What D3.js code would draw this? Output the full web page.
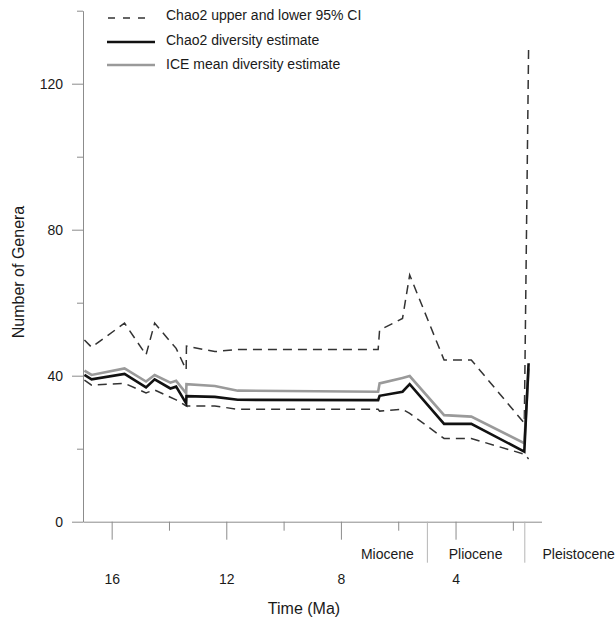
<!DOCTYPE html>
<html>
<head>
<meta charset="utf-8">
<script src="https://cdn.jsdelivr.net/npm/d3@7"></script>
<style>
  body { margin: 0; background: #fff; }
  text { font-family: "Liberation Sans", Arial, sans-serif; fill: #1a1a1a; }
</style>
</head>
<body>
<div id="grafica"></div>
<script>
// tiempo (Ma) de cada punto
var edades = [16.95, 16.7, 15.55, 14.8, 14.5, 13.95, 13.75, 13.4, 13.39, 12.4, 11.6, 6.7, 6.65, 5.85, 5.6, 4.4, 3.45, 1.6, 1.45];

var chao2Superior = [49.8, 47.8, 54.4, 45.7, 54.4, 49.3, 47.5, 41.6, 48.1, 46.6, 47.2, 47.2, 52.5, 55.7, 67.6, 44.3, 44.3, 27.0, 130];
var chao2Inferior = [38.8, 37.4, 37.9, 35.3, 36.1, 34.1, 33.4, 31.7, 31.7, 31.7, 30.8, 30.8, 30.3, 30.8, 29.7, 22.8, 22.8, 18.5, 17.2];
var chao2 = [40.2, 39.0, 40.5, 36.8, 39.0, 36.5, 37.0, 32.4, 34.4, 34.2, 33.4, 33.3, 34.5, 35.6, 37.7, 26.8, 26.8, 19.2, 43.4];
var ice = [41.4, 40.2, 42.0, 38.4, 40.2, 38.1, 38.6, 35.2, 37.7, 37.2, 35.9, 35.6, 37.9, 39.4, 39.9, 29.2, 28.8, 21.5, 42.0];

var ticksY = [0, 40, 80, 120];
var ticksYMenores = [20, 60, 100, 140];
var ticksX = [16, 12, 8, 4];
var ticksXMenores = [14, 10, 6, 2];
var limitesEpocas = [5.0, 1.6];
var epocas = ["Miocene", "Pliocene", "Pleistocene"];

var leyenda = ["Chao2 upper and lower 95% CI", "Chao2 diversity estimate", "ICE mean diversity estimate"];

var ancho = 615, alto = 622;

var svg = d3.select("#grafica").append("svg")
    .attr("width", ancho)
    .attr("height", alto);

var x = d3.scaleLinear().domain([17, 1]).range([83, 541.5]);
var y = d3.scaleLinear().domain([0, 140]).range([521.7, 10.7]);

var colorEje = "#8c8c8c";

// eje Y
var ejeY = svg.append("g")
    .attr("transform", "translate(" + x(17) + ",0)")
    .call(d3.axisLeft(y).tickValues(ticksY).tickSize(11).tickSizeOuter(0).tickPadding(9));
ejeY.selectAll("text").style("font-size", "14px");

var ejeYMenor = svg.append("g")
    .attr("transform", "translate(" + x(17) + ",0)")
    .call(d3.axisLeft(y).tickValues(ticksYMenores).tickSize(6).tickSizeOuter(0).tickFormat(""));
ejeYMenor.select(".domain").remove();

// eje X
var ejeX = svg.append("g")
    .attr("transform", "translate(0," + y(0) + ")")
    .call(d3.axisBottom(x).tickValues(ticksX).tickSize(18).tickSizeOuter(0).tickPadding(34));
ejeX.selectAll("text").style("font-size", "14px");

var ejeXMenor = svg.append("g")
    .attr("transform", "translate(0," + y(0) + ")")
    .call(d3.axisBottom(x).tickValues(ticksXMenores).tickSize(9).tickFormat(""));
ejeXMenor.select(".domain").remove();

var ejeEpocas = svg.append("g")
    .attr("transform", "translate(0," + y(0) + ")")
    .call(d3.axisBottom(x).tickValues(limitesEpocas).tickSize(41).tickFormat(""));
ejeEpocas.select(".domain").remove();

svg.selectAll(".domain, .tick line").attr("stroke", colorEje);
ejeEpocas.selectAll("line").attr("stroke", "#b5b5b5");

// nombres de las epocas
var yEpoca = 559;
svg.append("text").attr("x", x(limitesEpocas[0]) - 13).attr("y", yEpoca)
    .attr("text-anchor", "end").style("font-size", "14px").text(epocas[0]);
svg.append("text").attr("x", (x(limitesEpocas[0]) + x(limitesEpocas[1])) / 2).attr("y", yEpoca)
    .attr("text-anchor", "middle").style("font-size", "14px").text(epocas[1]);
svg.append("text").attr("x", x(1) + 1).attr("y", yEpoca)
    .attr("text-anchor", "start").style("font-size", "14px").text(epocas[2]);

// titulos de ejes
svg.append("text")
    .attr("x", 304).attr("y", 614)
    .attr("text-anchor", "middle")
    .style("font-size", "16px")
    .text("Time (Ma)");

svg.append("text")
    .attr("transform", "translate(24,272) rotate(-90)")
    .attr("text-anchor", "middle")
    .style("font-size", "16px")
    .text("Number of Genera");

// lineas
function datosSerie(valores) {
    return edades.map(function (e, i) { return [e, valores[i]]; });
}

var linea = d3.line()
    .x(function (d) { return x(d[0]); })
    .y(function (d) { return y(d[1]); });

var series = [
    { valores: chao2Superior, color: "#333", ancho: 1.5, guiones: "9,6" },
    { valores: chao2Inferior, color: "#333", ancho: 1.5, guiones: "9,6" },
    { valores: ice, color: "#9a9a9a", ancho: 2.6, guiones: null },
    { valores: chao2, color: "#111", ancho: 2.6, guiones: null }
];

svg.selectAll("path.serie")
    .data(series)
    .enter().append("path")
    .attr("class", "serie")
    .attr("d", function (d) { return linea(datosSerie(d.valores)); })
    .attr("fill", "none")
    .attr("stroke", function (d) { return d.color; })
    .attr("stroke-width", function (d) { return d.ancho; })
    .attr("stroke-dasharray", function (d) { return d.guiones; })
    .attr("stroke-linejoin", "miter");

// leyenda
var itemsLeyenda = [
    { texto: leyenda[0], color: "#333", ancho: 1.5, guiones: "7,8", x1: 108, x2: 147, y: 18, ty: 20 },
    { texto: leyenda[1], color: "#111", ancho: 2.6, guiones: null, x1: 107, x2: 155, y: 42, ty: 45 },
    { texto: leyenda[2], color: "#9a9a9a", ancho: 2.6, guiones: null, x1: 107, x2: 155, y: 65, ty: 68.5 }
];

var gLeyenda = svg.append("g");
gLeyenda.selectAll("line")
    .data(itemsLeyenda)
    .enter().append("line")
    .attr("x1", function (d) { return d.x1; })
    .attr("x2", function (d) { return d.x2; })
    .attr("y1", function (d) { return d.y; })
    .attr("y2", function (d) { return d.y; })
    .attr("stroke", function (d) { return d.color; })
    .attr("stroke-width", function (d) { return d.ancho; })
    .attr("stroke-dasharray", function (d) { return d.guiones; });

gLeyenda.selectAll("text")
    .data(itemsLeyenda)
    .enter().append("text")
    .attr("x", 166)
    .attr("y", function (d) { return d.ty; })
    .style("font-size", "14px")
    .text(function (d) { return d.texto; });
</script>
</body>
</html>
